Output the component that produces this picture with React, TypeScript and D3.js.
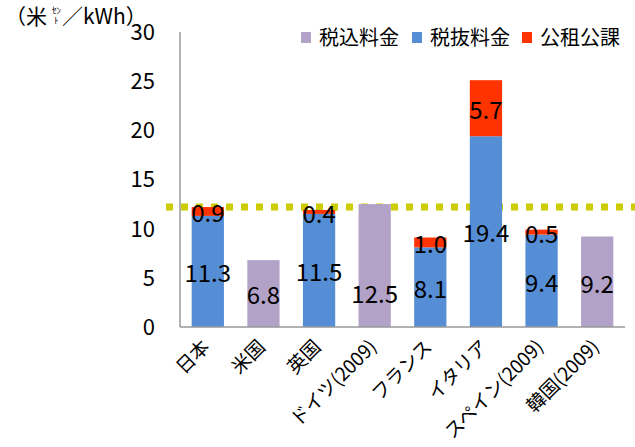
import * as d3 from 'd3'

const categories = ['日本', '米国', '英国', 'ドイツ(2009)', 'フランス', 'イタリア', 'スペイン(2009)', '韓国(2009)']
const taxIncluded = [0, 6.8, 0, 12.5, 0, 0, 0, 9.2]
const taxExcluded = [11.3, 0, 11.5, 0, 8.1, 19.4, 9.4, 0]
const publicLevy = [0.9, 0, 0.4, 0, 1.0, 5.7, 0.5, 0]
const yTicks = [0, 5, 10, 15, 20, 25, 30]
const japanLevel = 12.2

const series = [
  { key: 'inc', label: '税込料金', color: '#B3A2C7', values: taxIncluded },
  { key: 'exc', label: '税抜料金', color: '#558ED5', values: taxExcluded },
  { key: 'levy', label: '公租公課', color: '#FF3300', values: publicLevy },
]

const W = 635
const H = 447
const left = 180
const right = 625
const top = 32
const bottom = 327
const font = '"Noto Sans CJK JP", "Noto Sans", sans-serif'

export default function App() {
  const x = d3.scaleBand<string>().domain(categories).range([left, right]).paddingInner(0.42).paddingOuter(0.21)
  const y = d3.scaleLinear().domain([0, 30]).range([bottom, top])

  const stack = d3.stack<number>()
    .keys(series.map(s => s.key))
    .value((i, key) => series.find(s => s.key === key)!.values[i])
  const stacked = stack(categories.map((_, i) => i))

  // the Germany label sits lower in the original
  const nudge = (si: number, i: number) => (si === 0 && categories[i].startsWith('ドイツ') ? 27 : 0)

  return (
    <div style={{ position: 'absolute', left: 0, top: 0 }}>
      <svg width={W} height={H} style={{ display: 'block', fontFamily: font }}>
        <rect width={W} height={H} fill="#fff" />

        {/* unit label */}
        <text x={5} y={24} fontSize={21} fill="#000">（米</text>
        <text x={52} y={14} fontSize={9} fill="#000">ｾﾝ</text>
        <text x={54} y={24} fontSize={9} fill="#000">ﾄ</text>
        <text x={62} y={24} fontSize={21} fill="#000">／kWh）</text>

        {/* y tick labels */}
        {yTicks.map(t => (
          <text key={t} x={155} y={y(t)} dy="0.36em" textAnchor="end" fontSize={22} fill="#000">{t}</text>
        ))}

        {/* Japan reference line (behind bars) */}
        <line x1={166} x2={W} y1={y(japanLevel)} y2={y(japanLevel)} stroke="#CCCC00" strokeWidth={7} strokeDasharray="7 8" />

        {/* bars */}
        {stacked.map((layer, si) => (
          <g key={layer.key} fill={series[si].color}>
            {layer.map((d, i) => d[1] - d[0] > 0 ? (
              <rect key={i} x={x(categories[i])} width={x.bandwidth()} y={y(d[1])} height={y(d[0]) - y(d[1])} />
            ) : null)}
          </g>
        ))}

        {/* axes */}
        <line x1={left} x2={left} y1={top} y2={bottom} stroke="#999" strokeWidth={1.5} />
        <line x1={left} x2={right} y1={bottom} y2={bottom} stroke="#999" strokeWidth={1.5} />

        {/* value labels */}
        {stacked.map((layer, si) => layer.map((d, i) => d[1] - d[0] > 0 ? (
          <text key={`${si}-${i}`} x={x(categories[i])! + x.bandwidth() / 2} y={y((d[0] + d[1]) / 2) + nudge(si, i)} dy="0.45em"
            textAnchor="middle" fontSize={24} fill="#000">{(d[1] - d[0]).toFixed(1)}</text>
        ) : null))}

        {/* x labels */}
        {categories.map(c => {
          const cx = x(c)! + x.bandwidth() / 2 + 3
          return (
            <text key={c} transform={`translate(${cx},${bottom + 21}) rotate(-45)`} textAnchor="end" fontSize={19} fill="#000">{c}</text>
          )
        })}

        {/* legend */}
        {series.map((s, i) => {
          const lx = [301, 412, 522][i]
          return (
            <g key={s.key}>
              <rect x={lx} y={32} width={10} height={11} fill={s.color} />
              <text x={lx + 18} y={38} dy="0.36em" fontSize={20} fill="#000">{s.label}</text>
            </g>
          )
        })}
      </svg>
    </div>
  )
}
